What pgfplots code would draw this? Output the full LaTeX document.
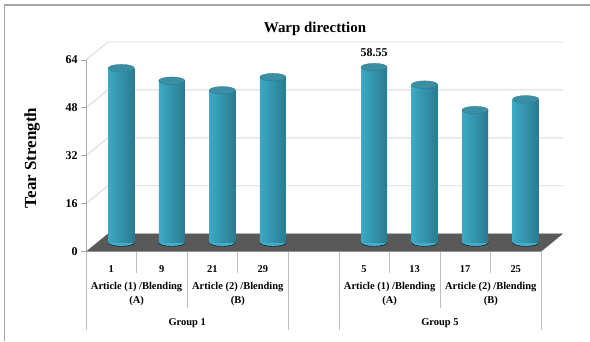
\documentclass[border=0pt]{standalone}
\usepackage{pgfplots}
\usepackage{pgfplotstable}
\pgfplotsset{compat=1.18}
\usepackage{fontspec}
\setmainfont{Liberation Serif}
\definecolor{gridc}{HTML}{D9D9D9}
\definecolor{floorc}{HTML}{595959}
\definecolor{framec}{HTML}{A6A6A6}
\definecolor{sepc}{HTML}{BFBFBF}
\definecolor{cylL}{HTML}{3CA9C5}
\definecolor{cylM}{HTML}{58C6E0}
\definecolor{cylR}{HTML}{2A7B90}
\definecolor{cylB}{HTML}{43AFCA}
\definecolor{cylT}{HTML}{3B8FA5}
\definecolor{cylE}{HTML}{2C7487}
\pgfplotstableread{
x y
0 58.2
1 54.0
2 50.8
3 55.2
5 58.55
6 52.7
7 44.2
8 47.8
}\bardata
\begin{document}
\begin{tikzpicture}[x=1bp,y=1bp]
\path[use as bounding box] (0,0) rectangle (590,341);
% frame
\draw[framec, line width=1.2bp] (4.5,0) -- (4.5,336) -- (590,336);
% side and back wall gridlines
\foreach \v in {0,16,32,48,64} {
  \pgfmathsetmacro{\Y}{89.3+\v*2.995}
  \draw[gridc, line width=0.9bp] (86,\Y) -- (108,\Y+18) -- (563,\Y+18);
}
% floor
\fill[floorc] (86,89.3) -- (541,89.3) -- (563,107.3) -- (108,107.3) -- cycle;
% main axis (ticks)
\begin{axis}[at={(86bp,89.3bp)}, anchor=south west, scale only axis,
  width=455bp, height=191.7bp, xmin=-0.5, xmax=8.5, ymin=0, ymax=64,
  axis lines*=left, clip=false,
  x axis line style={draw=none},
  y axis line style={draw=framec, line width=0.9bp},
  ytick={0,16,32,48,64},
  xtick={0,1,2,3,5,6,7,8}, xticklabels={1,9,21,29,5,13,17,25},
  tick align=outside, major tick length=5bp,
  ytick style={draw=framec, line width=0.9bp},
  xtick style={draw=none},
  /pgf/number format/assume math mode=true,
  yticklabel style={font=\bfseries\fontsize{12}{12}\selectfont},
  xticklabel style={font=\bfseries\fontsize{10.5}{12}\selectfont, anchor=center, yshift=-12.5bp},
]
\addplot[draw=none] coordinates {(0,0)};
\end{axis}
% cylinder bottoms (mid depth)
\begin{axis}[at={(96bp,98.5bp)}, anchor=south west, scale only axis,
  width=455bp, height=191.7bp, xmin=-0.5, xmax=8.5, ymin=0, ymax=64,
  hide axis, clip=false]
\addplot[only marks, mark=*, mark size=3.8bp,
  mark options={xscale=3.45, draw=none, fill=cylB}] table[x=x,y expr=0] {\bardata};
\end{axis}
% cylinder bodies and tops (mid depth)
\begin{axis}[at={(96bp,98.5bp)}, anchor=south west, scale only axis,
  width=455bp, height=191.7bp, xmin=-0.5, xmax=8.5, ymin=0, ymax=64,
  hide axis, clip=false]
\pgfplotsinvokeforeach{0,1,2,3,5,6,7,8}{
\addplot[ybar, bar width=26bp, bar shift=0pt, draw=none,
  left color=cylL, middle color=cylM, right color=cylR,
  restrict x to domain=#1:#1] table[x=x,y=y] {\bardata};
}
\addplot[only marks, mark=*, mark size=3.8bp,
  mark options={xscale=3.45, draw=cylE, line width=0.3bp, fill=cylT}] table[x=x,y=y] {\bardata};
\addplot[draw=none, mark=none, nodes near coords, point meta=explicit symbolic,
  nodes near coords style={font=\bfseries\fontsize{12}{12}\selectfont, anchor=center, yshift=15bp}]
  coordinates {(5,58.55) [58.55]};
\end{axis}
% category separators
\draw[sepc, line width=0.9bp]
  (136.6,89.3) -- (136.6,68) (237.8,89.3) -- (237.8,68)
  (389.6,89.3) -- (389.6,68) (490.8,89.3) -- (490.8,68)
  (187.2,89.3) -- (187.2,33) (440.2,89.3) -- (440.2,33)
  (86,89.3) -- (86,11) (288.4,89.3) -- (288.4,11)
  (339,89.3) -- (339,11) (541,89.3) -- (541,11);
\begin{scope}[every node/.style={font=\bfseries\fontsize{10.5}{15}\selectfont, align=center, inner sep=0pt}]
\node at (136.6,47) {Article (1) /Blending\\(A)};
\node at (237.8,47) {Article (2) /Blending\\(B)};
\node at (389.6,47) {Article (1) /Blending\\(A)};
\node at (490.8,47) {Article (2) /Blending\\(B)};
\node at (187.2,18) {Group 1};
\node at (440,18) {Group 5};
\end{scope}
\node[font=\bfseries\fontsize{15}{18}\selectfont, anchor=base] at (315,309) {Warp directtion};
\node[rotate=90, font=\bfseries\fontsize{17}{20}\selectfont] at (32,183) {Tear Strength};
\end{tikzpicture}
\end{document}
